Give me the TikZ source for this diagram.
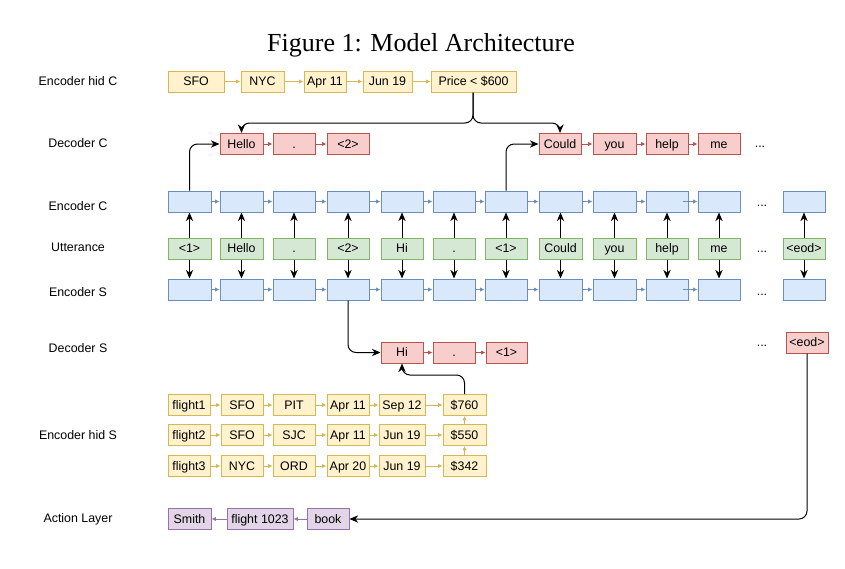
\documentclass[tikz,border=0pt]{standalone}
\usepackage{fontspec}
\setmainfont{Liberation Serif}
\setsansfont{Liberation Sans}
\usetikzlibrary{arrows.meta,positioning,calc}
\definecolor{yfill}{HTML}{FFF2CC}\definecolor{ydraw}{HTML}{D6B656}
\definecolor{rfill}{HTML}{F8CECC}\definecolor{rdraw}{HTML}{B85450}
\definecolor{bfill}{HTML}{DAE8FC}\definecolor{bdraw}{HTML}{6C8EBF}
\definecolor{gfill}{HTML}{D5E8D4}\definecolor{gdraw}{HTML}{82B366}
\definecolor{pfill}{HTML}{E1D5E7}\definecolor{pdraw}{HTML}{9673A6}
\newcommand\bx[6]{\node[#5, minimum width={(#3-#2)*0.75pt}] (#1) at ({(#2+#3)/2},#4) {#6};}
\tikzset{
  base/.style={draw, line width=0.75pt, inner sep=0pt, minimum height=15.75pt, text height=8pt, text depth=1.6pt, font=\sffamily\fontsize{9.3}{10}\selectfont},
  ybox/.style={base, draw=ydraw, fill=yfill},
  rbox/.style={base, draw=rdraw, fill=rfill},
  bbox/.style={base, draw=bdraw, fill=bfill},
  gbox/.style={base, draw=gdraw, fill=gfill},
  pbox/.style={base, draw=pdraw, fill=pfill},
  lbl/.style={font=\sffamily\fontsize{9.3}{10}\selectfont, inner sep=0pt, text height=8pt, text depth=1.6pt},
  chain/.style={line width=0.6pt, -{Latex[length=3.2pt,width=3.2pt]}},
  ych/.style={chain, draw=ydraw, fill=ydraw},
  rch/.style={chain, draw=rdraw, fill=rdraw},
  bch/.style={chain, draw=bdraw, fill=bdraw},
  pch/.style={chain, draw=pdraw, fill=pdraw},
  blk/.style={line width=0.75pt, -{Stealth[length=6.5pt,width=5.5pt]}, rounded corners=6pt},
}
\begin{document}
\begin{tikzpicture}[x=0.75pt,y=-0.75pt]
\useasboundingbox (0,0) rectangle (845,568);
\node[font=\fontsize{19.5}{22}\selectfont, inner sep=0pt] (title) at (421,45) {Figure 1: Model Architecture};
% row labels
\node[lbl] (l1) at (78,81) {Encoder hid C};
\node[lbl] (l2) at (78,143) {Decoder C};
\node[lbl] (l3) at (78,206) {Encoder C};
\node[lbl] (l4) at (78,247) {Utterance};
\node[lbl] (l5) at (78,292) {Encoder S};
\node[lbl] (l6) at (78,348) {Decoder S};
\node[lbl] (l7) at (78,435) {Encoder hid S};
\node[lbl] (l8) at (78,518) {Action Layer};
% Encoder hid C
\bx{h1}{168}{224}{81.5}{ybox}{SFO}
\bx{h2}{241}{284}{81.5}{ybox}{NYC}
\bx{h3}{304}{346}{81.5}{ybox}{Apr 11}
\bx{h4}{363}{412}{81.5}{ybox}{Jun 19}
\bx{h5}{431}{516}{81.5}{ybox}{Price < \$600}
\draw[ych] (h1) -- (h2); \draw[ych] (h2) -- (h3); \draw[ych] (h3) -- (h4); \draw[ych] (h4) -- (h5);
% Decoder C
\bx{d1}{220}{263}{144}{rbox}{Hello}
\bx{d2}{273}{315}{144}{rbox}{.}
\bx{d3}{327}{369}{144}{rbox}{<2>}
\bx{d4}{539}{581}{144}{rbox}{Could}
\bx{d5}{593}{636}{144}{rbox}{you}
\bx{d6}{646}{688}{144}{rbox}{help}
\bx{d7}{698}{740}{144}{rbox}{me}
\node[lbl] (dd) at (760,143) {...};
\draw[rch] (d1) -- (d2); \draw[rch] (d2) -- (d3);
\draw[rch] (d4) -- (d5); \draw[rch] (d5) -- (d6); \draw[rch] (d6) -- (d7);
% Encoder C, Utterance, Encoder S
\foreach \i/\a/\b/\t in {1/168/211/<1>,2/220/263/Hello,3/273/315/.,4/327/369/<2>,5/381/423/Hi,6/433/475/.,7/485/527/<1>,8/539/582/Could,9/593/636/you,10/646/688/help,11/698/740/me,12/783/825/<eod>}{
  \bx{ec\i}{\a}{\b}{201.5}{bbox}{}
  \bx{u\i}{\a}{\b}{248.5}{gbox}{\t}
  \bx{es\i}{\a}{\b}{289.5}{bbox}{}
  \draw[blk] (u\i) -- (ec\i);
  \draw[blk] (u\i) -- (es\i);
}
\foreach \i [evaluate=\i as \j using int(\i+1)] in {1,...,9}{
  \draw[bch] (ec\i) -- (ec\j);
  \draw[bch] (es\i) -- (es\j);
}
\coordinate (qc) at ($(ec10.east)+(-6,0)$);
\coordinate (qs) at ($(es10.east)+(-6,0)$);
\draw[bch] (qc) -- (ec11);
\draw[bch] (qs) -- (es11);
\node[lbl] (dc) at (762,202) {...};
\node[lbl] (du) at (762,248) {...};
\node[lbl] (ds) at (762,291) {...};
% Decoder S
\bx{s1}{381}{423}{352.5}{rbox}{Hi}
\bx{s2}{433}{475}{352.5}{rbox}{.}
\bx{s3}{486}{527}{352.5}{rbox}{<1>}
\draw[rch] (s1) -- (s2); \draw[rch] (s2) -- (s3);
\node[lbl] (dds) at (762,342) {...};
\bx{eod}{786}{828}{342.5}{rbox}{<eod>}
% Encoder hid S
\foreach \r/\y/\f/\p/\q/\m/\n/\c in {1/405/flight1/SFO/PIT/Apr 11/Sep 12/\$760,2/435/flight2/SFO/SJC/Apr 11/Jun 19/\$550,3/466/flight3/NYC/ORD/Apr 20/Jun 19/\$342}{
  \bx{f\r1}{168}{210}{\y}{ybox}{\f}
  \bx{f\r2}{221}{263}{\y}{ybox}{\p}
  \bx{f\r3}{273}{315}{\y}{ybox}{\q}
  \bx{f\r4}{327}{369}{\y}{ybox}{\m}
  \bx{f\r5}{379}{425}{\y}{ybox}{\n}
  \bx{f\r6}{443}{486}{\y}{ybox}{\c}
  \draw[ych] (f\r1) -- (f\r2); \draw[ych] (f\r2) -- (f\r3); \draw[ych] (f\r3) -- (f\r4);
  \draw[ych] (f\r4) -- (f\r5); \draw[ych] (f\r5) -- (f\r6);
}
\draw[ych] (f36) -- (f26); \draw[ych] (f26) -- (f16);
% Action layer
\bx{a1}{168}{211}{519}{pbox}{Smith}
\bx{a2}{227}{293}{519}{pbox}{flight 1023}
\bx{a3}{307}{349}{519}{pbox}{book}
\draw[pch] (a3) -- (a2); \draw[pch] (a2) -- (a1);
% black connectors
\coordinate (split) at (473,123);
\draw[blk] (h5.south -| split) -- (split) -| (d1.north);
\draw[blk] (h5.south -| split) -- (split) -| (d4.north);
\draw[blk] (ec1.north) |- (d1.west);
\draw[blk] (ec7.north) |- (d4.west);
\draw[blk] (es4.south) |- (s1.west);
\draw[blk] (f16.north) -- ++(0,-19) -| (s1.south);
\draw[blk] (eod.south) |- (a3.east);
\end{tikzpicture}
\end{document}
